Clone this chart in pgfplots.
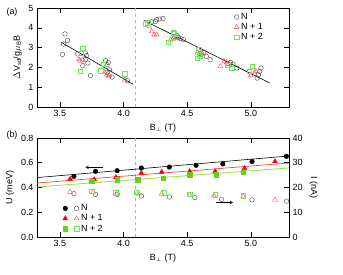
\documentclass[border=0pt]{standalone}
\usepackage{pgfplots}
\pgfplotsset{compat=1.18}
\usepackage{fontspec}
\setmainfont{Liberation Sans}
\definecolor{gfill}{RGB}{100,210,20}
\definecolor{gopen}{RGB}{110,230,90}
\definecolor{gline}{RGB}{150,225,60}
\definecolor{ropen}{RGB}{255,70,70}
\definecolor{rfill}{RGB}{250,0,0}
\definecolor{rline}{RGB}{255,40,40}
\definecolor{kopen}{RGB}{70,70,70}
\pgfplotsset{
  panel/.style={
    scale only axis, width=252bp, height=99bp,
    xmin=3.32, xmax=5.30,
    xtick={3.5,4,4.5,5},
    tick align=inside, major tick length=5bp,
    /pgf/number format/assume math mode=true,
    font=\fontsize{9}{10}\selectfont,
    xticklabel style={/pgf/number format/.cd, fixed, fixed zerofill, precision=1},
    axis line style={line width=0.6pt},
    every tick/.style={line width=0.6pt, black},
    clip=false,
  },
}
\begin{document}
\begin{tikzpicture}
% ---------- panel (a)
\begin{axis}[panel, at={(0,0)}, anchor=north west,
  ymin=0, ymax=5, ytick={0,1,2,3,4,5},
  xlabel={B$_\perp$ (T)},
  ylabel={$\Delta$V$_{\mathrm{sd}}$/g$\mu_{\mathrm{B}}$B},
  ylabel style={font=\fontsize{9}{10}\selectfont},
  legend style={draw=none, fill=none, at={(0.77,0.99)}, anchor=north west,
    font=\fontsize{9}{10}\selectfont, row sep=-1.5pt},
  legend cell align=left,
]
\addplot[gray!60, dashed, line width=0.9pt, forget plot] coordinates {(4.09,0) (4.09,5)};
\addplot[only marks, mark=o, mark size=2.3bp, kopen, line width=0.4pt] coordinates {
(3.54,3.69) (3.56,3.36) (3.53,3.18) (3.52,2.66) (3.64,2.68) (3.70,2.73) (3.71,2.59)
(3.70,2.39) (3.68,2.09) (3.72,2.22) (3.74,1.58) (3.86,2.34) (3.87,2.14) (3.88,2.25)
(3.89,1.88) (3.87,1.75) (3.91,1.51) (4.03,1.33)
(4.22,4.30) (4.26,4.41) (4.28,4.44) (4.31,4.47) (4.25,4.32) (4.40,3.55) (4.43,3.50)
(4.45,3.45) (4.47,3.40) (4.42,3.60) (4.61,2.64) (4.63,2.75) (4.65,2.56) (4.68,2.39)
(4.60,2.70) (4.84,2.25) (4.86,2.17) (4.82,2.20) (4.89,1.97) (5.08,1.97) (5.07,1.80)
(5.06,1.63) (5.05,1.46)};
\addlegendentry{N}
\addplot[only marks, mark=triangle, mark size=2.8bp, ropen, line width=0.4pt] coordinates {
(3.65,2.40) (3.66,2.33) (3.68,2.39) (3.85,1.75) (3.87,1.63) (3.88,1.55) (3.89,1.60)
(4.01,1.38) (4.20,4.10) (4.22,3.82) (4.24,3.65) (4.26,3.66) (4.37,3.40) (4.39,3.45)
(4.41,3.50) (4.58,2.75) (4.60,2.80) (4.62,2.70) (4.76,2.05) (4.79,2.30) (4.81,2.25)
(5.03,1.75) (5.04,1.82) (5.00,1.60)};
\addlegendentry{N + 1}
\addplot[only marks, mark=square, mark size=2.2bp, gopen, line width=0.5pt] coordinates {
(3.68,2.98) (3.67,2.71) (3.66,1.80) (3.84,2.17) (3.82,1.83) (4.01,1.68) (4.17,4.21)
(4.19,4.25) (4.35,3.28) (4.39,3.74) (4.40,3.70) (4.59,2.89) (4.58,2.47) (4.60,2.55)
(4.85,1.97) (4.82,2.10) (5.01,2.05) (4.99,1.80)};
\addlegendentry{N + 2}
\addplot[black, line width=0.6pt, forget plot] coordinates {(3.513,3.26) (4.077,1.14)};
\addplot[black, line width=0.6pt, forget plot] coordinates {(4.16,4.37) (5.15,1.21)};
\end{axis}
\node[font=\fontsize{9}{10}\selectfont] at (-25bp,-4bp) {(a)};
% ---------- panel (b) left
\begin{axis}[panel, at={(0,-130bp)}, anchor=north west,
  ymin=0, ymax=0.8, ytick={0,0.2,0.4,0.6,0.8}, ytick pos=left,
  yticklabel style={/pgf/number format/.cd, fixed, fixed zerofill, precision=1},
  xlabel={B$_\perp$ (T)},
  ylabel={U (meV)},
  legend style={draw=none, fill=none, at={(0.09,0.37)}, anchor=north west,
    font=\fontsize{9}{10}\selectfont, row sep=-1.5pt},
  legend cell align=left,
]
\addplot[gray!60, dashed, line width=0.9pt, forget plot] coordinates {(4.09,0) (4.09,0.8)};
\addplot[black, line width=0.6pt, forget plot] coordinates {(3.32,0.480) (5.30,0.655)};
\addplot[rline, line width=0.6pt, forget plot] coordinates {(3.32,0.436) (5.30,0.598)};
\addplot[gline, line width=0.8pt, forget plot] coordinates {(3.32,0.404) (5.30,0.558)};
\addplot[only marks, mark=*, mark size=2.3bp, black, forget plot] coordinates {
(3.61,0.490) (3.78,0.530) (3.95,0.536) (4.14,0.557) (4.36,0.565) (4.57,0.579)
(4.78,0.590) (5.01,0.610) (5.28,0.652)};
\addplot[only marks, mark=triangle*, mark size=2.8bp, rfill, forget plot] coordinates {
(3.58,0.469) (3.77,0.465) (3.94,0.482) (4.14,0.517) (4.30,0.525) (4.52,0.530)
(4.72,0.530) (4.95,0.555) (5.19,0.611)};
\addplot[only marks, mark=square*, mark size=2.2bp, gfill, forget plot] coordinates {
(3.75,0.449) (3.95,0.463) (4.11,0.463) (4.31,0.477) (4.52,0.503) (4.73,0.503)
(4.94,0.522)};
\addplot[black, line width=0.5pt, -stealth, forget plot] coordinates {(3.84,0.563) (3.70,0.563)};
\addlegendimage{legend image code/.code={
  \draw[black, mark=*, mark size=2.3bp, only marks] plot coordinates {(0.12cm,0cm)};
  \draw[kopen, mark=o, mark size=2.3bp, line width=0.4pt, only marks] plot coordinates {(0.52cm,0cm)};}}
\addlegendentry{N}
\addlegendimage{legend image code/.code={
  \draw[rfill, mark=triangle*, mark size=2.8bp, only marks] plot coordinates {(0.12cm,0cm)};
  \draw[ropen, mark=triangle, mark size=2.8bp, line width=0.4pt, only marks] plot coordinates {(0.52cm,0cm)};}}
\addlegendentry{N + 1}
\addlegendimage{legend image code/.code={
  \draw[gfill, mark=square*, mark size=2.2bp, only marks] plot coordinates {(0.12cm,0cm)};
  \draw[gopen, mark=square, mark size=2.2bp, line width=0.5pt, only marks] plot coordinates {(0.52cm,0cm)};}}
\addlegendentry{N + 2}
\end{axis}
% ---------- panel (b) right
\begin{axis}[panel, at={(0,-130bp)}, anchor=north west,
  axis x line=none, axis y line*=right,
  ymin=0, ymax=40, ytick={0,10,20,30,40},
  ylabel={I (nA)}, ylabel style={rotate=180},
]
\addplot[only marks, mark=o, mark size=2.3bp, kopen, line width=0.4pt] coordinates {
(3.61,17.5) (3.78,17.2) (3.95,17.2) (4.14,16.6) (4.36,16.2) (4.56,15.9) (4.77,15.2)
(5.01,15.0) (5.28,14.5)};
\addplot[only marks, mark=triangle, mark size=2.8bp, ropen, line width=0.4pt] coordinates {
(3.58,18.2) (3.76,18.2) (3.95,17.9) (4.12,17.5) (4.30,17.5) (4.52,17.0) (4.71,16.8)
(4.94,16.4) (5.19,15.0)};
\addplot[only marks, mark=square, mark size=2.2bp, gopen, line width=0.5pt] coordinates {
(3.75,18.6) (3.94,17.9) (4.10,18.2) (4.32,17.9) (4.52,17.2) (4.72,17.0) (4.94,16.6)};
\addplot[black, line width=0.5pt, -stealth] coordinates {(4.73,13.9) (4.86,13.9)};
\end{axis}
\node[font=\fontsize{9}{10}\selectfont] at (-25bp,-127bp) {(b)};
\pgfresetboundingbox
\path[use as bounding box] (-37bp,8bp) rectangle (306bp,-267bp);
\end{tikzpicture}
\end{document}
